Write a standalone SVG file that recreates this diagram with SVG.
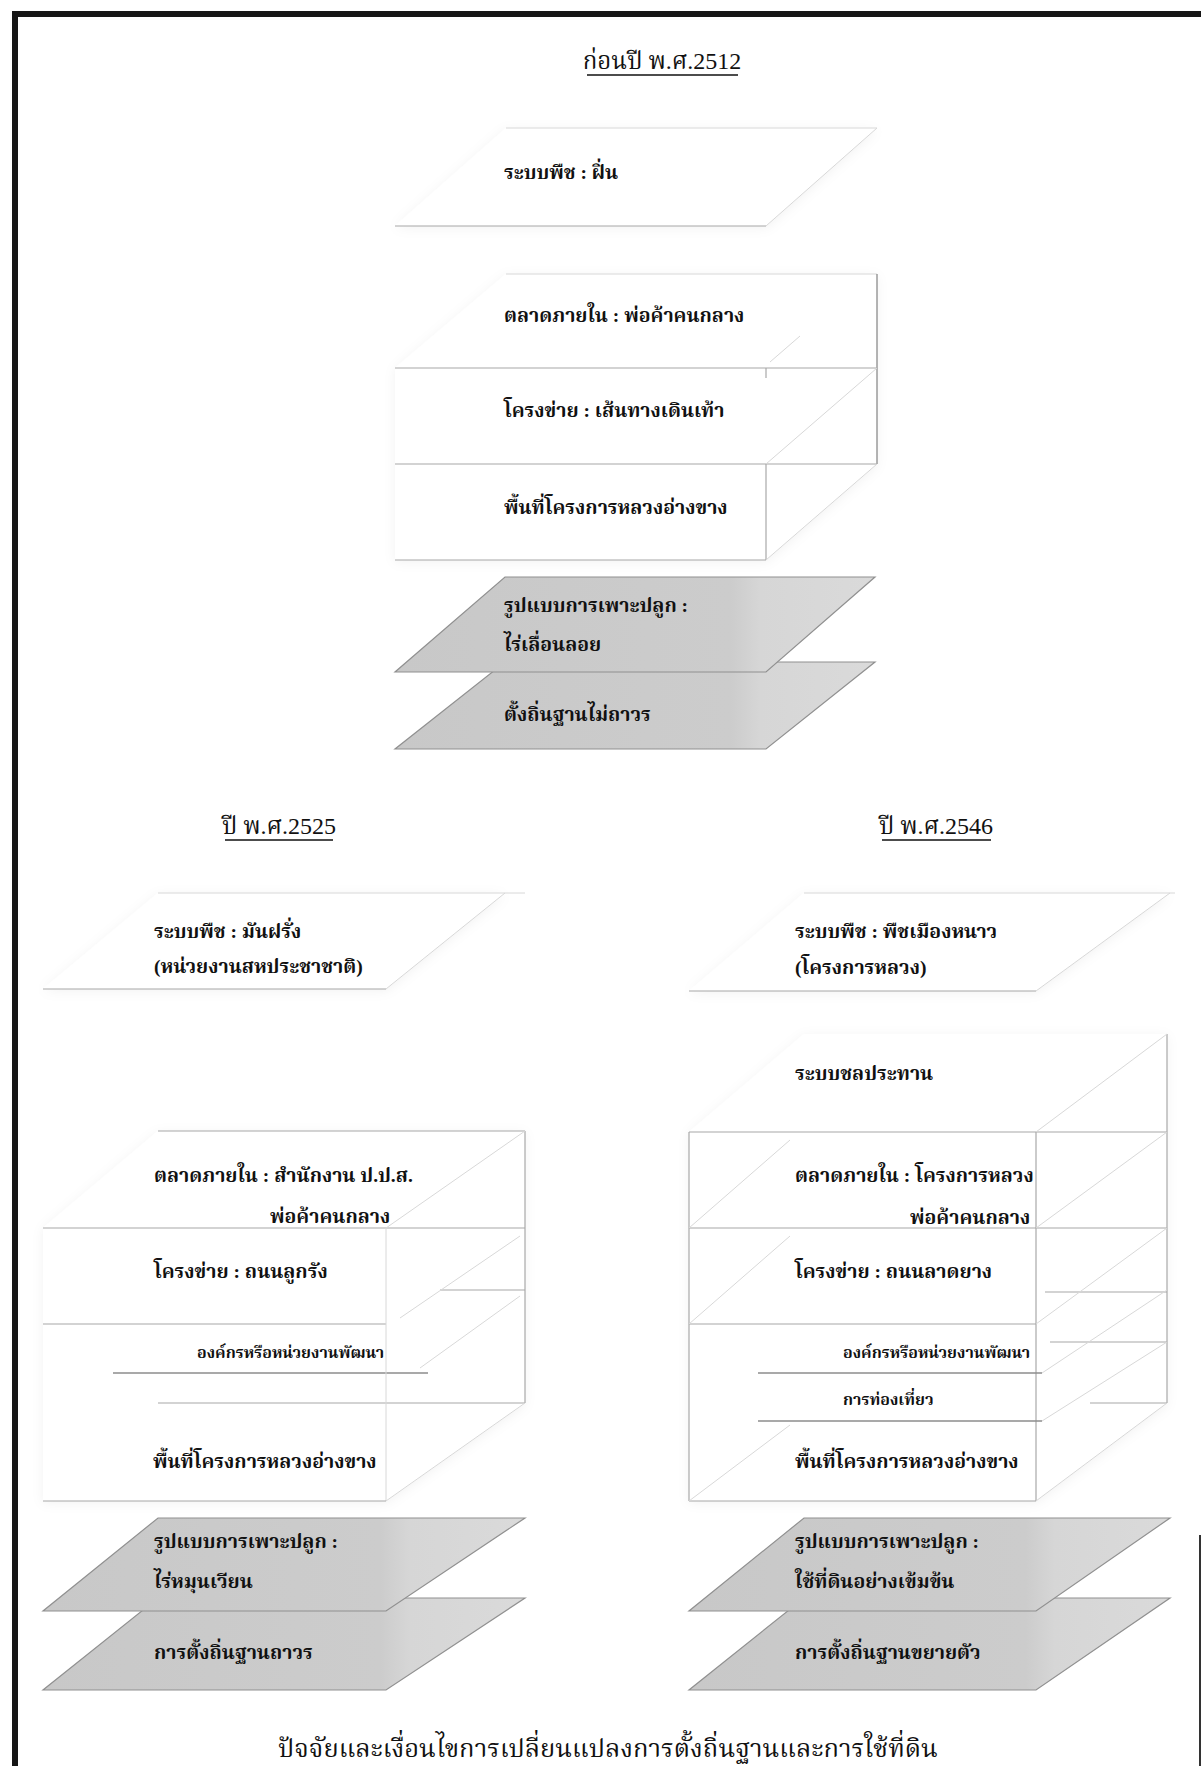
<svg xmlns="http://www.w3.org/2000/svg" width="1201" height="1766" viewBox="0 0 1201 1766">
<style>
.t{font-family:"Liberation Serif","Noto Serif Thai","Noto Sans Thai",serif;font-weight:bold;font-size:19.5px;fill:#111}
.s{font-size:16px}
.h{font-family:"Liberation Serif","Noto Serif Thai","Noto Sans Thai",serif;font-size:24px;fill:#111}
.cap{font-family:"Liberation Serif","Noto Serif Thai","Noto Sans Thai",serif;font-size:25.5px;fill:#111}
.ln{stroke:#a8a8a8;stroke-width:1.2;fill:none}
.lf{stroke:#d8d8d8;stroke-width:1;fill:none}
.dk{stroke:#8c8c8c;stroke-width:1.3;fill:none}
.plate{fill:#fff;stroke:none}
.gray{fill:url(#gg);stroke:#909090;stroke-width:1.2}
.ul{stroke:#111;stroke-width:1.5}
</style>
<defs>
<linearGradient id="gg" x1="0" y1="0" x2="1" y2="0">
<stop offset="0" stop-color="#c8c8c8"/>
<stop offset="0.7" stop-color="#cccccc"/>
<stop offset="0.76" stop-color="#d6d6d6"/>
<stop offset="1" stop-color="#dadada"/>
</linearGradient>
<filter id="sh" x="-10%" y="-20%" width="120%" height="140%">
<feDropShadow dx="0" dy="2" stdDeviation="6" flood-color="#000" flood-opacity="0.05"/>
</filter>
</defs>
<rect width="1201" height="1766" fill="#fff"/>
<g id="frame">
<line x1="15" y1="11" x2="15" y2="1766" stroke="#161616" stroke-width="6"/>
<line x1="12" y1="14" x2="1201" y2="14" stroke="#161616" stroke-width="6"/>
<line x1="1200" y1="1535" x2="1200" y2="1766" stroke="#333" stroke-width="2"/>
</g>

<!-- ===== Top section ===== -->
<g id="title-2512">
<text class="h" x="662" y="69" text-anchor="middle">ก่อนปี พ.ศ.2512</text>
<line class="ul" x1="587" y1="75" x2="738" y2="75"/>
</g>
<g id="top-crop">
<polygon class="plate" filter="url(#sh)" points="395,226 766,226 877,128 506,128"/>
<line class="ln" x1="395" y1="226" x2="766" y2="226"/>
<line class="lf" x1="506" y1="128" x2="877" y2="128"/>
<line class="lf" x1="766" y1="226" x2="877" y2="128"/>
<text class="t" x="504" y="179">ระบบพืช : ฝิ่น</text>
</g>
<g id="top-stack">
<polygon class="plate" filter="url(#sh)" points="395,560 766,560 877,464 877,274 506,274 395,368"/>
<line class="lf" x1="506" y1="274" x2="877" y2="274"/>
<line class="dk" x1="877" y1="274" x2="877" y2="464"/>
<line class="ln" x1="395" y1="368" x2="877" y2="368"/>
<line class="ln" x1="395" y1="464" x2="877" y2="464"/>
<line class="ln" x1="766" y1="464" x2="766" y2="560"/>
<line class="ln" x1="766" y1="368" x2="766" y2="378"/>
<line class="ln" x1="395" y1="560" x2="766" y2="560"/>
<line class="lf" x1="766" y1="560" x2="877" y2="464"/>
<line class="lf" x1="766" y1="464" x2="877" y2="368"/>
<line class="lf" x1="770" y1="362" x2="800" y2="336"/>
</g>
<g id="top-market"><text class="t" x="504" y="322">ตลาดภายใน : พ่อค้าคนกลาง</text></g>
<g id="top-network"><text class="t" x="504" y="417">โครงข่าย : เส้นทางเดินเท้า</text></g>
<g id="top-area"><text class="t" x="504" y="514">พื้นที่โครงการหลวงอ่างขาง</text></g>
<g id="top-settle">
<polygon class="gray" points="395,749 766,749 875,662 505,662"/>
<text class="t" x="504" y="721">ตั้งถิ่นฐานไม่ถาวร</text>
</g>
<g id="top-farm">
<polygon class="gray" points="395,672 766,672 875,577 505,577"/>
<text class="t" x="504" y="612">รูปแบบการเพาะปลูก :</text>
<text class="t" x="504" y="651">ไร่เลื่อนลอย</text>
</g>

<!-- ===== Left section ===== -->
<g id="title-2525">
<text class="h" x="279" y="834" text-anchor="middle">ปี พ.ศ.2525</text>
<line class="ul" x1="225" y1="840" x2="333" y2="840"/>
</g>
<g id="left-crop">
<polygon class="plate" filter="url(#sh)" points="43,989 386,989 505,893 158,893"/>
<line class="ln" x1="43" y1="989" x2="386" y2="989"/>
<line class="lf" x1="158" y1="893" x2="525" y2="893"/>
<line class="lf" x1="386" y1="989" x2="505" y2="893"/>
<text class="t" x="154" y="938">ระบบพืช : มันฝรั่ง</text>
<text class="t" x="154" y="973">(หน่วยงานสหประชาชาติ)</text>
</g>
<g id="left-stack">
<polygon class="plate" filter="url(#sh)" points="43,1501 386,1501 525,1403 525,1131 158,1131 43,1228"/>
<line class="ln" x1="158" y1="1131" x2="525" y2="1131"/>
<line class="ln" x1="525" y1="1131" x2="525" y2="1403"/>
<line class="ln" x1="43" y1="1228" x2="525" y2="1228"/>
<line class="ln" x1="43" y1="1324" x2="386" y2="1324"/>
<line class="ln" x1="440" y1="1290" x2="525" y2="1290"/>
<line class="dk" x1="113" y1="1373" x2="428" y2="1373"/>
<line class="ln" x1="158" y1="1403" x2="525" y2="1403"/>
<line class="lf" x1="386" y1="1228" x2="386" y2="1501"/>
<line class="ln" x1="43" y1="1501" x2="386" y2="1501"/>
<line class="lf" x1="386" y1="1501" x2="525" y2="1403"/>
<line class="lf" x1="386" y1="1228" x2="525" y2="1131"/>
<line class="lf" x1="400" y1="1318" x2="520" y2="1236"/>
<line class="lf" x1="420" y1="1368" x2="520" y2="1296"/>
</g>
<g id="left-market">
<text class="t" x="154" y="1182">ตลาดภายใน : สำนักงาน ป.ป.ส.</text>
<text class="t" x="270" y="1223">พ่อค้าคนกลาง</text>
</g>
<g id="left-network"><text class="t" x="154" y="1278">โครงข่าย : ถนนลูกรัง</text></g>
<g id="left-org"><text class="t s" x="197" y="1358">องค์กรหรือหน่วยงานพัฒนา</text></g>
<g id="left-area"><text class="t" x="153" y="1468">พื้นที่โครงการหลวงอ่างขาง</text></g>
<g id="left-settle">
<polygon class="gray" points="43,1690 386,1690 525,1598 158,1598"/>
<text class="t" x="154" y="1659">การตั้งถิ่นฐานถาวร</text>
</g>
<g id="left-farm">
<polygon class="gray" points="43,1611 386,1611 525,1518 158,1518"/>
<text class="t" x="154" y="1548">รูปแบบการเพาะปลูก :</text>
<text class="t" x="154" y="1588">ไร่หมุนเวียน</text>
</g>

<!-- ===== Right section ===== -->
<g id="title-2546">
<text class="h" x="936" y="834" text-anchor="middle">ปี พ.ศ.2546</text>
<line class="ul" x1="882" y1="840" x2="991" y2="840"/>
</g>
<g id="right-crop">
<polygon class="plate" filter="url(#sh)" points="689,991 1036,991 1170,893 804,893"/>
<line class="ln" x1="689" y1="991" x2="1036" y2="991"/>
<line class="lf" x1="804" y1="893" x2="1175" y2="893"/>
<line class="lf" x1="1036" y1="991" x2="1170" y2="893"/>
<text class="t" x="795" y="938">ระบบพืช : พืชเมืองหนาว</text>
<text class="t" x="795" y="974">(โครงการหลวง)</text>
</g>
<g id="right-stack">
<polygon class="plate" filter="url(#sh)" points="689,1501 1036,1501 1167,1403 1167,1034 804,1034 689,1132"/>
<line class="ln" x1="1167" y1="1034" x2="1167" y2="1403"/>
<line class="ln" x1="689" y1="1132" x2="1167" y2="1132"/>
<line class="ln" x1="689" y1="1132" x2="689" y2="1501"/>
<line class="ln" x1="1036" y1="1132" x2="1036" y2="1501"/>
<line class="ln" x1="689" y1="1228" x2="1167" y2="1228"/>
<line class="ln" x1="689" y1="1324" x2="1036" y2="1324"/>
<line class="ln" x1="1045" y1="1292" x2="1167" y2="1292"/>
<line class="ln" x1="1050" y1="1342" x2="1167" y2="1342"/>
<line class="ln" x1="1090" y1="1403" x2="1167" y2="1403"/>
<line class="dk" x1="758" y1="1373" x2="1042" y2="1373"/>
<line class="dk" x1="758" y1="1421" x2="1042" y2="1421"/>
<line class="ln" x1="689" y1="1501" x2="1036" y2="1501"/>
<line class="lf" x1="1036" y1="1132" x2="1167" y2="1034"/>
<line class="lf" x1="1036" y1="1228" x2="1167" y2="1132"/>
<line class="lf" x1="1036" y1="1324" x2="1167" y2="1228"/>
<line class="lf" x1="1042" y1="1373" x2="1167" y2="1290"/>
<line class="lf" x1="1042" y1="1421" x2="1167" y2="1342"/>
<line class="lf" x1="1036" y1="1501" x2="1167" y2="1403"/>
<line class="lf" x1="689" y1="1228" x2="790" y2="1140"/>
<line class="lf" x1="689" y1="1324" x2="790" y2="1236"/>
<line class="lf" x1="689" y1="1501" x2="790" y2="1425"/>
</g>
<g id="right-irrigation"><text class="t" x="795" y="1080">ระบบชลประทาน</text></g>
<g id="right-market">
<text class="t" x="795" y="1182">ตลาดภายใน : โครงการหลวง</text>
<text class="t" x="910" y="1224">พ่อค้าคนกลาง</text>
</g>
<g id="right-network"><text class="t" x="795" y="1278">โครงข่าย : ถนนลาดยาง</text></g>
<g id="right-org"><text class="t s" x="843" y="1358">องค์กรหรือหน่วยงานพัฒนา</text></g>
<g id="right-tourism"><text class="t s" x="843" y="1405">การท่องเที่ยว</text></g>
<g id="right-area"><text class="t" x="795" y="1468">พื้นที่โครงการหลวงอ่างขาง</text></g>
<g id="right-settle">
<polygon class="gray" points="689,1690 1036,1690 1170,1598 804,1598"/>
<text class="t" x="795" y="1659">การตั้งถิ่นฐานขยายตัว</text>
</g>
<g id="right-farm">
<polygon class="gray" points="689,1611 1036,1611 1170,1518 804,1518"/>
<text class="t" x="795" y="1548">รูปแบบการเพาะปลูก :</text>
<text class="t" x="795" y="1588">ใช้ที่ดินอย่างเข้มข้น</text>
</g>

<g id="caption"><text class="cap" x="608" y="1757" text-anchor="middle">ปัจจัยและเงื่อนไขการเปลี่ยนแปลงการตั้งถิ่นฐานและการใช้ที่ดิน</text></g>
<g id="connectors"></g>
</svg>
